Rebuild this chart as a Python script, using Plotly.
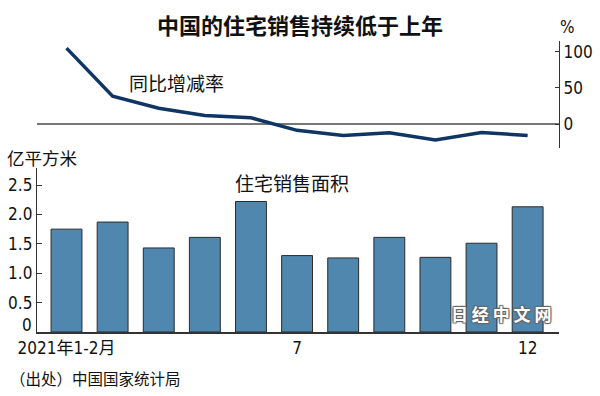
import plotly.graph_objects as go
from plotly.subplots import make_subplots

# ---- data ----
months = ["2021年1-2月", "3月", "4月", "5月", "6月", "7", "8月", "9月", "10月", "11月", "12"]
area = [1.75, 1.87, 1.43, 1.61, 2.22, 1.30, 1.26, 1.61, 1.27, 1.51, 2.13]   # 亿平方米
yoy = [104.9, 38.6, 21.9, 12.0, 8.8, -8.5, -15.5, -11.8, -21.7, -11.5, -15.6]  # %
x_tickvals = [0, 5, 10]
x_ticktext = ["2021年1-2月", "7", "12"]
yoy_ticks = [0, 50, 100]
area_ticks = [0.5, 1.0, 1.5, 2.0, 2.5]
area_ticktext = ["0.5", "1.0", "1.5", "2.0", "2.5"]

CJK = "Noto Sans CJK SC"
NUM = "Liberation Sans Narrow, DejaVu Sans Condensed, Arial Narrow, Liberation Sans, sans-serif"

xs = list(range(len(months)))

fig = make_subplots(rows=2, cols=1, shared_xaxes=False, vertical_spacing=0.0)

fig.add_trace(go.Scatter(x=xs, y=yoy, mode="lines",
                         line=dict(color="#0e3563", width=3.5),
                         hoverinfo="skip", showlegend=False), row=1, col=1)

fig.add_trace(go.Bar(x=xs, y=area, width=0.67,
                     marker=dict(color="#4f87ae", line=dict(color="#2b2b2b", width=1)),
                     hoverinfo="skip", showlegend=False), row=2, col=1)

xr = [-0.64, 10.68]
fig.update_layout(
    width=600, height=396,
    margin=dict(l=37, r=41, t=41, b=64, autoexpand=False),
    paper_bgcolor="white", plot_bgcolor="white",
    font=dict(family=CJK, color="#111"),
    xaxis=dict(domain=[0, 1], range=xr, visible=False, showgrid=False, zeroline=False,
               automargin=False),
    yaxis=dict(domain=[0.632, 1.0], range=[-33, 114.7], side="right",
               tickvals=yoy_ticks, ticks="inside", ticklen=4, tickcolor="#333",
               showline=True, linecolor="#333", linewidth=1.2,
               showgrid=False, zeroline=True, zerolinecolor="#777", zerolinewidth=1.5,
               automargin=False,
               tickfont=dict(family=NUM, size=17, color="#111")),
    xaxis2=dict(domain=[0, 1], range=xr, tickvals=x_tickvals, ticktext=x_ticktext,
                ticks="", showline=True, linecolor="#333", linewidth=1.5,
                showgrid=False, zeroline=False, automargin=False,
                tickfont=dict(family=NUM + ", " + CJK, size=17, color="#111")),
    yaxis2=dict(domain=[0, 0.5636], range=[0, 2.79], tickvals=area_ticks, ticktext=area_ticktext,
                ticks="inside", ticklen=5, tickcolor="#333",
                showline=True, linecolor="#333", linewidth=1.2,
                showgrid=False, zeroline=False, automargin=False,
                tickfont=dict(family=NUM, size=17, color="#111")),
)

# zero label of the area axis sits just above the baseline
fig.add_annotation(text="0", xref="paper", yref="y2", x=0, y=0,
                   xanchor="right", yanchor="bottom", xshift=-3, yshift=-5, showarrow=False,
                   font=dict(size=17, family=NUM, color="#111"))

ann = [
    dict(text="<b>中国的住宅销售持续低于上年</b>", x=300, y=24, size=22),
    dict(text="%", x=567, y=27, size=17, family=NUM),
    dict(text="同比增减率", x=176, y=82, size=19),
    dict(text="亿平方米", x=42, y=157, size=17.5),
    dict(text="住宅销售面积", x=292, y=182, size=19),
    dict(text="（出处）中国国家统计局", x=95, y=378, size=15.5),
]
for a in ann:
    fig.add_annotation(text=a["text"], xref="paper", yref="paper",
                       x=(a["x"] - 37) / (600 - 37 - 41),
                       y=(396 - 64 - a["y"]) / (396 - 41 - 64),
                       xanchor="center", yanchor="middle", showarrow=False,
                       font=dict(size=a["size"], family=a.get("family", CJK), color="#111"))

# watermark
fig.add_annotation(text="<b>日 经 中 文 网</b>", xref="paper", yref="paper",
                   x=(501 - 37) / (600 - 37 - 41), y=(396 - 64 - 313) / (396 - 41 - 64),
                   xanchor="center", yanchor="middle", showarrow=False,
                   font=dict(size=17, family=CJK, color="white",
                             shadow="1px 1px 1px #666, -1px -1px 1px #666, 1px -1px 1px #666, -1px 1px 1px #666"))

fig.write_html("out.html", config={"displayModeBar": False, "staticPlot": True},
               post_script="document.body.style.margin='0';document.body.style.overflow='hidden';")
